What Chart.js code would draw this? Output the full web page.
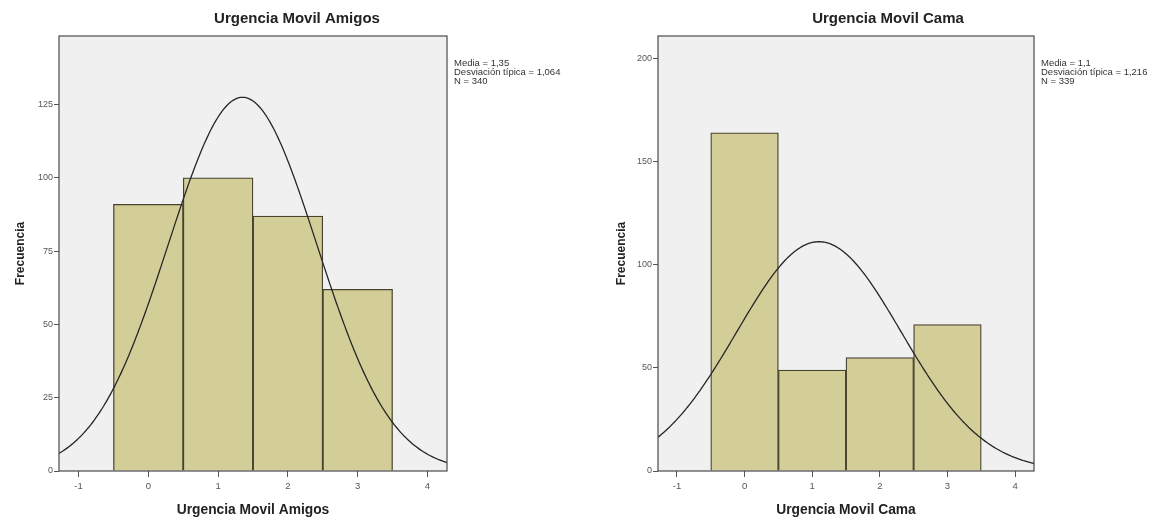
<!DOCTYPE html>
<html>
<head>
<meta charset="utf-8">
<title>Urgencia Movil</title>
<script src="https://cdn.jsdelivr.net/npm/chart.js@4/dist/chart.umd.min.js"></script>
<style>
  html, body { margin: 0; padding: 0; background: #fff; overflow: hidden; width: 1157px; height: 521px; }
  .panel { position: absolute; top: 0; height: 521px; }
  #panelAmigos { left: 0; width: 594px; }
  #panelCama { left: 578px; width: 620px; }
</style>
</head>
<body>
<div class="panel" id="panelAmigos"><canvas id="chartAmigos"></canvas></div>
<div class="panel" id="panelCama"><canvas id="chartCama"></canvas></div>
<script>
// Puntuaciones (0-3) y frecuencias de cada histograma
const categorias = [0, 1, 2, 3];
const frecAmigos = [91, 100, 87, 62];
const frecCama = [164, 49, 55, 71];

// Estadisticos mostrados al lado de cada grafico
const mediaAmigos = 1.35, desvAmigos = 1.064, nAmigos = 340;
const mediaCama = 1.1, desvCama = 1.216, nCama = 339;
const resumenAmigos = ['Media = 1,35', 'Desviación típica = 1,064', 'N = 340'];
const resumenCama = ['Media = 1,1', 'Desviación típica = 1,216', 'N = 339'];

// Marcas de los ejes
const ticksX = [-1, 0, 1, 2, 3, 4];
const ticksYAmigos = [0, 25, 50, 75, 100, 125];
const ticksYCama = [0, 50, 100, 150, 200];

const X_MIN = -1.28, X_MAX = 4.28;
const FUENTE = '"Liberation Sans", Arial, sans-serif';

// curva normal ajustada (ancho de intervalo = 1)
function curvaNormal(media, desv, n) {
  const pts = [];
  for (let i = 0; i <= 278; i++) {
    const x = X_MIN + i * (X_MAX - X_MIN) / 278;
    const z = (x - media) / desv;
    pts.push({ x: x, y: n * Math.exp(-0.5 * z * z) / (desv * Math.sqrt(2 * Math.PI)) });
  }
  return pts;
}

// fondo gris del area de datos y marco alrededor
const marcoPlugin = {
  id: 'marco',
  beforeDatasetsDraw(chart) {
    const a = chart.chartArea, ctx = chart.ctx;
    ctx.save();
    ctx.fillStyle = '#f0f0f0';
    ctx.fillRect(a.left, a.top, a.right - a.left, a.bottom - a.top);
    ctx.restore();
  },
  afterDatasetsDraw(chart) {
    const a = chart.chartArea, ctx = chart.ctx;
    ctx.save();
    ctx.strokeStyle = '#4a4a4a';
    ctx.lineWidth = 1.2;
    ctx.strokeRect(a.left, a.top, a.right - a.left, a.bottom - a.top);
    ctx.restore();
  }
};

// texto con media, desviacion y N a la derecha del grafico
const resumenPlugin = {
  id: 'resumen',
  afterDraw(chart, args, opts) {
    const a = chart.chartArea, ctx = chart.ctx;
    ctx.save();
    ctx.font = '9.5px ' + FUENTE;
    ctx.fillStyle = '#333';
    ctx.textBaseline = 'middle';
    (opts.lineas || []).forEach((t, i) => {
      ctx.fillText(t, a.right + 7, a.top + 27.5 + i * 8.7);
    });
    ctx.restore();
  }
};

function histograma(id, titulo, frec, media, desv, n, resumen, ticksY, maxY, anchoY, padTituloY, anchoDerecha) {
  new Chart(document.getElementById(id), {
    type: 'bar',
    data: {
      datasets: [{
        type: 'line',
        data: curvaNormal(media, desv, n),
        borderColor: '#262626',
        borderWidth: 1.3,
        pointRadius: 0,
        tension: 0,
        fill: false
      }, {
        type: 'bar',
        data: categorias.map((c, i) => ({ x: c, y: frec[i] })),
        backgroundColor: '#d3ce98',
        borderColor: '#46432f',
        borderWidth: 1.3,
        barPercentage: 1,
        categoryPercentage: 1
      }]
    },
    options: {
      responsive: true,
      maintainAspectRatio: false,
      animation: false,
      layout: { padding: 0 },
      plugins: {
        legend: { display: false },
        tooltip: { enabled: false },
        title: {
          display: true,
          text: titulo,
          color: '#222',
          font: { family: FUENTE, size: 15, weight: 'bold' },
          padding: { top: 10, bottom: 8 }
        },
        resumen: { lineas: resumen }
      },
      scales: {
        x: {
          type: 'linear',
          min: X_MIN,
          max: X_MAX,
          offset: false,
          afterBuildTicks: s => { s.ticks = ticksX.map(v => ({ value: v })); },
          afterFit: s => { s.height = 50; },
          border: { display: false },
          grid: { offset: false, drawOnChartArea: false, drawTicks: true, tickLength: 6, color: '#555' },
          ticks: { color: '#555', font: { family: FUENTE, size: 9.5 }, padding: 4, maxRotation: 0 },
          title: {
            display: true,
            text: titulo,
            color: '#222',
            font: { family: FUENTE, size: 13.8, weight: 'bold' },
            padding: { top: 4, bottom: 3 }
          }
        },
        y: {
          min: 0,
          max: maxY,
          afterBuildTicks: s => { s.ticks = ticksY.map(v => ({ value: v })); },
          afterFit: s => { s.width = anchoY; },
          border: { display: false },
          grid: { drawOnChartArea: false, drawTicks: true, tickLength: 5, color: '#555' },
          ticks: { color: '#555', font: { family: FUENTE, size: 9 }, padding: 1 },
          title: {
            display: true,
            text: 'Frecuencia',
            color: '#222',
            font: { family: FUENTE, size: 12, weight: 'bold' },
            padding: { top: padTituloY, bottom: 0 }
          }
        },
        // espacio a la derecha para el resumen estadistico
        derecha: {
          position: 'right',
          min: 0,
          max: 1,
          afterFit: s => { s.width = anchoDerecha; },
          border: { display: false },
          grid: { display: false },
          ticks: { display: false }
        }
      }
    },
    plugins: [marcoPlugin, resumenPlugin]
  });
}

histograma('chartAmigos', 'Urgencia Movil Amigos', frecAmigos, mediaAmigos, desvAmigos, nAmigos,
  resumenAmigos, ticksYAmigos, 148.4, 59, 13, 147);
histograma('chartCama', 'Urgencia Movil Cama', frecCama, mediaCama, desvCama, nCama,
  resumenCama, ticksYCama, 211, 80, 36, 164);
</script>
</body>
</html>
